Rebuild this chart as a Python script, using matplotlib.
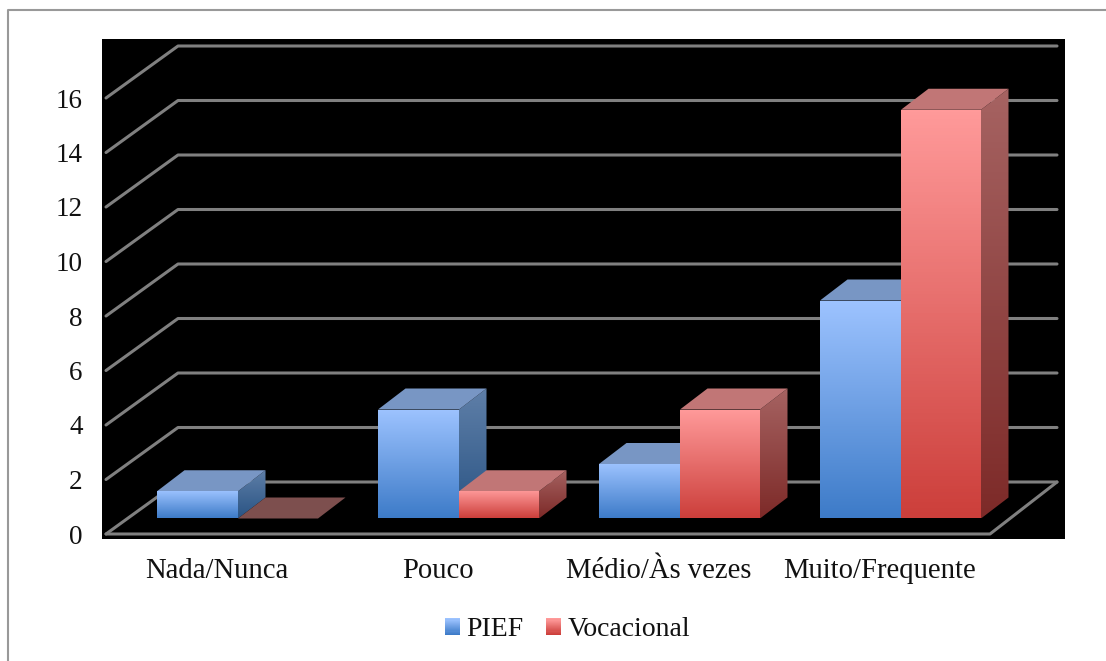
import numpy as np
import matplotlib
matplotlib.use("Agg")
import matplotlib.pyplot as plt
from matplotlib.colors import LinearSegmentedColormap
from matplotlib.legend_handler import HandlerBase
from matplotlib.lines import Line2D
from matplotlib.patches import Polygon, Rectangle

# Data
categories = ["Nada/Nunca", "Pouco", "Médio/Às vezes", "Muito/Frequente"]
pief = [1, 4, 2, 8]
vocacional = [0, 1, 4, 15]
y_ticks = [0, 2, 4, 6, 8, 10, 12, 14, 16]

# Figure size in pixels, black plot area in pixels
W, H = 1106, 661
LEFT, RIGHT, TOP, BOTTOM = 102, 1065, 39, 539

# Scales: one category step = 221 px, one value unit = 27.25 px
STEP = 221.0
UNIT = 27.25
BASE_X = 238.0   # px of the first category centre
BASE_Y = 518.5   # px of value 0 on the bars' front face

PIEF_W = 81 / STEP
VOC_W = 80 / STEP
BAR_DX = 27.5 / STEP     # depth of a bar
BAR_DY = 21 / UNIT

FLOOR_FRONT = (BASE_Y - 534) / UNIT
FLOOR_BACK = (BASE_Y - 482) / UNIT
WALL_X0 = (106 - BASE_X) / STEP
WALL_X1 = (178 - BASE_X) / STEP
FLOOR_X2 = (990 - BASE_X) / STEP
WALL_X3 = (1057 - BASE_X) / STEP
LABEL_SHIFT = 21 / STEP

GRID = "#808080"
BLUE = {"front": ("#9DC3FF", "#3D7BC8"), "side": ("#5F7FA8", "#2A5484"), "top": "#7896C4"}
RED = {"front": ("#FF9A9A", "#CC3F3B"), "side": ("#A66362", "#7D2A28"), "top": "#C17676"}
FLAT_RED = "#7D4F4E"

plt.rcParams["font.family"] = ["Liberation Serif", "DejaVu Serif"]
FS_Y = 19.5
FS_X = 20.6
FS_LEG = 20

fig = plt.figure(figsize=(W / 100, H / 100), dpi=100, facecolor="white")
ax = fig.add_axes([LEFT / W, 1 - BOTTOM / H, (RIGHT - LEFT) / W, (BOTTOM - TOP) / H])
ax.set_facecolor("black")

layer = [10]


def gradient_poly(verts, colors):
    # vertical gradient clipped to a polygon
    layer[0] += 1
    verts = np.array(verts)
    cmap = LinearSegmentedColormap.from_list("g", [colors[1], colors[0]])
    grad = np.linspace(1, 0, 128)[:, None]
    im = ax.imshow(grad, cmap=cmap, vmin=0, vmax=1, aspect="auto", zorder=layer[0],
                   extent=[verts[:, 0].min(), verts[:, 0].max(), verts[:, 1].min(), verts[:, 1].max()])
    im.set_clip_path(Polygon(verts, transform=ax.transData))


def flat_poly(verts, color):
    layer[0] += 1
    ax.add_patch(Polygon(verts, facecolor=color, edgecolor="none", zorder=layer[0]))


def draw_bar(x0, width, value, style):
    x1 = x0 + width
    if value == 0:
        flat_poly([(x0, 0), (x1, 0), (x1 + BAR_DX, BAR_DY), (x0 + BAR_DX, BAR_DY)], FLAT_RED)
        return
    gradient_poly([(x1, 0), (x1 + BAR_DX, BAR_DY), (x1 + BAR_DX, value + BAR_DY), (x1, value)], style["side"])
    flat_poly([(x0, value), (x1, value), (x1 + BAR_DX, value + BAR_DY), (x0 + BAR_DX, value + BAR_DY)], style["top"])
    gradient_poly([(x0, 0), (x1, 0), (x1, value), (x0, value)], style["front"])


# 3D walls and gridlines
line_kw = dict(color=GRID, lw=2.2, solid_capstyle="round", solid_joinstyle="round", zorder=2)
for v in y_ticks:
    ax.plot([WALL_X0, WALL_X1, WALL_X3], [FLOOR_FRONT + v, FLOOR_BACK + v, FLOOR_BACK + v], **line_kw)
ax.plot([WALL_X0, FLOOR_X2, WALL_X3], [FLOOR_FRONT, FLOOR_FRONT, FLOOR_BACK], **line_kw)

# Bars
for i in range(len(categories)):
    draw_bar(i - PIEF_W, PIEF_W, pief[i], BLUE)
    draw_bar(i, VOC_W, vocacional[i], RED)

ax.set_xlim((LEFT - BASE_X) / STEP, (RIGHT - BASE_X) / STEP)
ax.set_ylim((BASE_Y - BOTTOM) / UNIT, (BASE_Y - TOP) / UNIT)

ax.set_xticks(np.arange(len(categories)) - LABEL_SHIFT, categories, fontsize=FS_X)
ax.set_yticks(np.array(y_ticks) + FLOOR_FRONT, [str(v) for v in y_ticks], fontsize=FS_Y)
ax.tick_params(axis="both", length=0, colors="#111111")
ax.tick_params(axis="x", pad=14)
ax.tick_params(axis="y", pad=14)
for s in ax.spines.values():
    s.set_visible(False)


class GradientHandler(HandlerBase):
    # legend swatch made of thin stripes to get the gradient
    def __init__(self, colors):
        super().__init__()
        self.cmap = LinearSegmentedColormap.from_list("h", [colors[0], colors[1]])

    def create_artists(self, legend, orig, xd, yd, w, h, fontsize, trans):
        n = 15
        out = []
        for k in range(n):
            out.append(Rectangle((-xd, -yd + h * (n - k - 1) / n), w, h / n * 1.05,
                                 facecolor=self.cmap(k / (n - 1)), edgecolor="none", transform=trans))
        return out


h1 = Rectangle((0, 0), 1, 1, label="PIEF")
h2 = Rectangle((0, 0), 1, 1, label="Vocacional")
ax.legend(handles=[h1, h2], loc="center", bbox_to_anchor=(567.5 / W, 1 - 630 / H),
          bbox_transform=fig.transFigure, ncol=2, frameon=False, fontsize=FS_LEG,
          handlelength=0.54, handleheight=0.54, handletextpad=0.25, columnspacing=0.8,
          labelcolor="#111111",
          handler_map={h1: GradientHandler(BLUE["front"]), h2: GradientHandler(RED["front"])})

# Outer chart frame, cut by the crop on the right and bottom
fig.add_artist(Line2D([8 / W, 8 / W, 1], [0, 1 - 10 / H, 1 - 10 / H], color="#999999", lw=1.5,
                      transform=fig.transFigure))

fig.savefig("out.png", dpi=100)
